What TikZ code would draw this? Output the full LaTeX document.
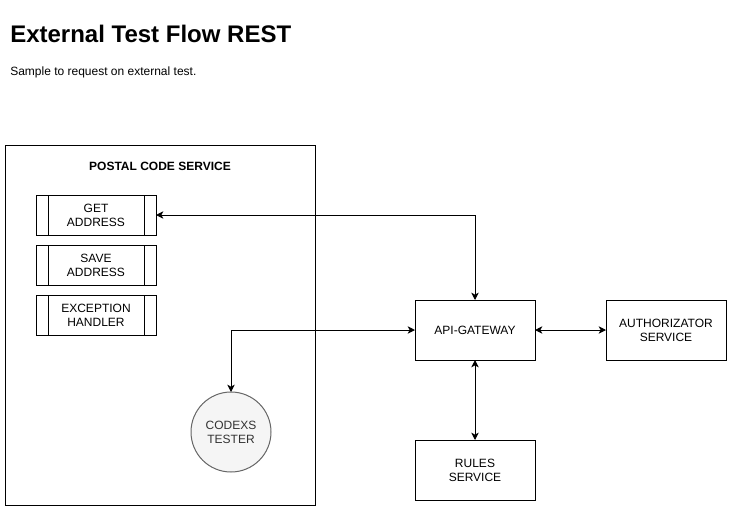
\documentclass[tikz,border=0pt]{standalone}
\usepackage{fontspec}
\setmainfont{Liberation Sans}
\usetikzlibrary{positioning, arrows.meta}
\definecolor{testerfill}{HTML}{F5F5F5}
\definecolor{testerdraw}{HTML}{666666}
\definecolor{testertext}{HTML}{333333}

\begin{document}
\begin{tikzpicture}[x=0.75pt, y=-0.75pt]
	% Define styles
	\tikzset{
		block/.style={rectangle, draw, line width=0.75pt, text width=85pt, align=center, minimum width=90pt, minimum height=45pt, inner sep=0pt, outer sep=0pt, font=\fontsize{9}{10.5}\selectfont},
		proc/.style={block, minimum height=30pt, path picture={
				\draw[line width=0.75pt] ([xshift=9pt]path picture bounding box.north west) -- ([xshift=9pt]path picture bounding box.south west);
				\draw[line width=0.75pt] ([xshift=-9pt]path picture bounding box.north east) -- ([xshift=-9pt]path picture bounding box.south east);
			}},
		tester/.style={circle, draw=testerdraw, fill=testerfill, text=testertext, line width=0.75pt, minimum size=60pt, inner sep=0pt, outer sep=0pt, align=center, font=\fontsize{9}{10.5}\selectfont},
		line/.style={draw, line width=0.75pt, {Stealth[length=5.5pt, width=5.5pt, inset=1.5pt]}-{Stealth[length=5.5pt, width=5.5pt, inset=1.5pt]}}
	}
	\useasboundingbox (0,0) rectangle (732,511);
	
	% Heading
	\node[anchor=base west, inner sep=0pt, font=\bfseries\fontsize{18}{21}\selectfont] (title) at (10,42) {External Test Flow REST};
	\node[anchor=base west, inner sep=0pt, font=\fontsize{9}{10.5}\selectfont] (subtitle) at (10,75) {Sample to request on external test.};
	
	% Postal code service
	\node[draw, line width=0.75pt, minimum width=232.5pt, minimum height=270pt, inner sep=0pt] (postal) at (160,325) {};
	\node[font=\bfseries\fontsize{9}{10.5}\selectfont] (postallabel) at (160,166) {POSTAL CODE SERVICE};
	
	\node[proc] (get) at (96,215) {GET\\ADDRESS};
	\node[proc, below=7.5pt of get] (save) {SAVE\\ADDRESS};
	\node[proc, below=7.5pt of save] (exception) {EXCEPTION\\HANDLER};
	
	\node[tester] (codexs) at (231,432) {CODEXS\\TESTER};
	
	% Services
	\node[block] (gateway) at (475,330) {API-GATEWAY};
	\node[block, right=53.25pt of gateway] (authorizator) {AUTHORIZATOR\\SERVICE};
	\node[block, below=60pt of gateway] (rules) {RULES\\SERVICE};
	
	% Arrows
	\draw[line] (get.east) -| (gateway.north);
	\draw[line] (codexs.north) |- (gateway.west);
	\draw[line] (gateway.east) -- (authorizator.west);
	\draw[line] (gateway.south) -- (rules.north);
	
\end{tikzpicture}
\end{document}
